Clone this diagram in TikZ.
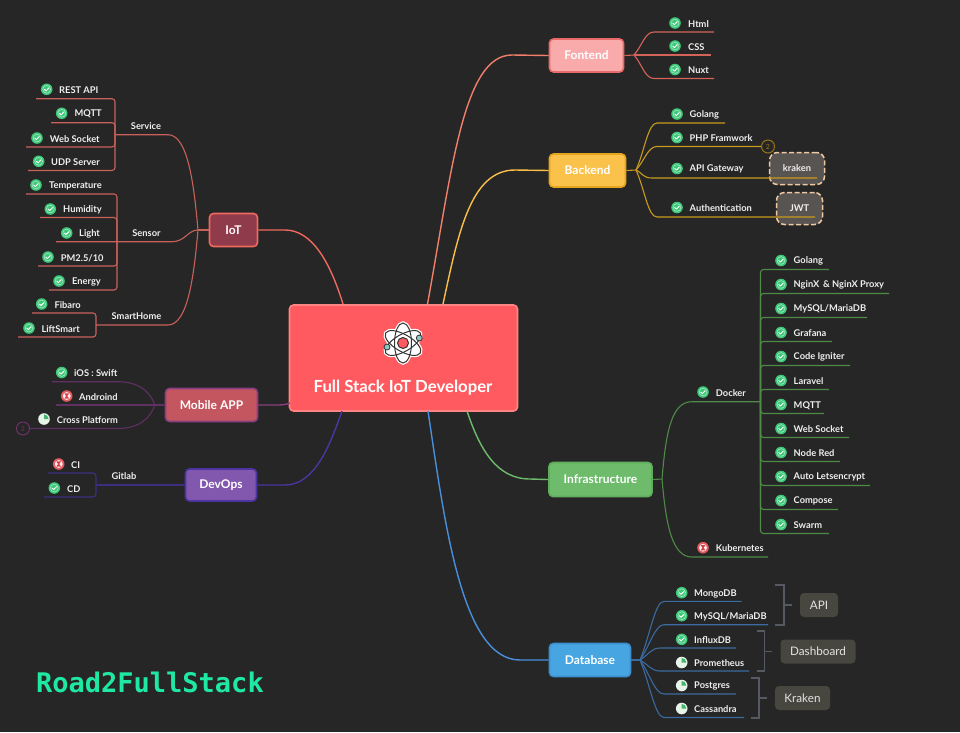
\documentclass[tikz,border=0pt]{standalone}
\usepackage{fontspec}
\setmainfont{Lato}
\newfontfamily\logofont{DejaVu Sans Mono}
\usetikzlibrary{calc,shapes.geometric}
\definecolor{bgc}{HTML}{262626}
\definecolor{txt}{HTML}{EFEFEF}
\definecolor{cIot}{HTML}{C9615B}\definecolor{rIot}{HTML}{F0695F}
\definecolor{cMob}{HTML}{5F3062}\definecolor{rMob}{HTML}{8A3F80}
\definecolor{cDev}{HTML}{3D2F80}\definecolor{rDev}{HTML}{4C35A0}
\definecolor{cFe}{HTML}{D4645A}\definecolor{rFe}{HTML}{F0806A}
\definecolor{cBe}{HTML}{C99A1E}\definecolor{rBe}{HTML}{FBBF47}
\definecolor{cIn}{HTML}{4F8A48}\definecolor{rIn}{HTML}{6DBB6B}
\definecolor{cDb}{HTML}{3A6A9E}\definecolor{rDb}{HTML}{4A8FDC}
\definecolor{brk}{HTML}{555962}
\definecolor{dashc}{HTML}{EFC9A2}
\definecolor{dashf}{HTML}{585452}
\definecolor{graybox}{HTML}{47473F}
\definecolor{notet}{HTML}{E4E4E4}
\definecolor{okc}{HTML}{3CC878}
\definecolor{waitc}{HTML}{E25B5F}
\definecolor{waitd}{HTML}{D83F48}
\definecolor{piew}{HTML}{E6F5E8}
\definecolor{pieg}{HTML}{45B46E}
\definecolor{rootf}{HTML}{FF5A5F}\definecolor{rootd}{HTML}{FF8585}
\definecolor{iotf}{HTML}{8F3B4B}
\definecolor{mobf}{HTML}{C4565F}
\definecolor{devf}{HTML}{8257AE}
\definecolor{fef}{HTML}{F9ABAB}\definecolor{fed}{HTML}{E96A6A}
\definecolor{bef}{HTML}{FBC24B}\definecolor{bed}{HTML}{E5A61E}
\definecolor{inf}{HTML}{6DBB6B}\definecolor{ind}{HTML}{5FAE5C}
\definecolor{dbf}{HTML}{47A6E2}\definecolor{dbd}{HTML}{3C8FD0}
\definecolor{logoc}{HTML}{1FE8A2}
\tikzset{
  x=1pt,y=-1pt,
  leaftext/.style={anchor=west,inner sep=0pt,yshift=-0.8pt,text=txt,font=\fontsize{9.3}{11}\selectfont\bfseries},
  sublabel/.style={inner sep=0pt,text=txt,font=\fontsize{9.3}{11}\selectfont\bfseries},
  mainbox/.style={rounded corners=4pt,line width=1.6pt,inner sep=0pt,text=white,font=\fontsize{12}{14}\selectfont\bfseries},
  dashbox/.style={rounded corners=8pt,line width=1.5pt,draw=dashc,dash pattern=on 5pt off 2.5pt,fill=dashf,inner sep=0pt,text=txt,font=\fontsize{9.3}{11}\selectfont\bfseries},
  notebox/.style={rounded corners=4pt,fill=graybox,inner sep=0pt,text=notet,font=\fontsize{11.7}{14}\selectfont},
  numc/.style={circle,draw,line width=1pt,minimum size=13pt,inner sep=0pt,font=\fontsize{7}{8}\selectfont},
  conn/.style={line width=1.1pt,line join=round},
  iconok/.pic={
    \fill[okc] (0,0) circle[radius=5.8pt];
    \draw[white,line width=.6pt,opacity=.55] (0,0) circle[radius=3.9pt];
    \draw[white,line width=1pt,line cap=round,line join=round] (-2.2,0.1) -- (-0.6,1.6) -- (2.3,-1.4);
  },
  iconwait/.pic={
    \fill[waitc] (0,0) circle[radius=5.8pt];
    \fill[white,opacity=.9] (0,0) circle[radius=3.9pt];
    \fill[waitd] (-2.4,-2.6) -- (2.4,-2.6) -- (0.6,0) -- (2.4,2.6) -- (-2.4,2.6) -- (-0.6,0) -- cycle;
  },
  iconpie/.pic={
    \fill[piew] (0,0) circle[radius=5.8pt];
    \fill[pieg] (0,0) -- (0,-4.6) arc[start angle=-90,end angle=0,radius=4.6] -- cycle;
  },
}
% leaf: id, icon, icon x, icon y, text x, line y, free end x, text
\newcommand\lf[8]{%
  \pic at (#3,#4) {#2};
  \node[leaftext] (#1) at (#5,#4) {#8};
  \coordinate (#1-e) at (#7,#6);
}
% fan branch: colour, hub, bend x, leaf id
\newcommand\fan[4]{%
  \draw[conn,#1] (#2) .. controls ($(#2)!.42!(#3,0 |- #4-e)$) and ($(#3,0 |- #4-e)+(-9,0)$) .. (#3,0 |- #4-e) -- (#4-e);
}
\begin{document}
\begin{tikzpicture}
\useasboundingbox (0,0) rectangle (960,732);
\fill[bgc] (0,0) rectangle (960,732);

%% main boxes
\node[mainbox,fill=rootf,draw=rootd,minimum width=228pt,minimum height=106pt] (root) at (403.5,358) {};
\node[inner sep=0pt,text=white,font=\fontsize{16.7}{19}\selectfont\bfseries] (title) at (403,387.8) {Full Stack IoT Developer};
\coordinate (atom) at (403,343);
\foreach \a in {0,60,120}{\draw[white,line width=3.4pt,fill=white] (atom) ellipse[x radius=8.5pt,y radius=20pt,rotate=\a];}
\foreach \a in {0,60,120}{\draw[black!80,line width=1pt] (atom) ellipse[x radius=8.5pt,y radius=20pt,rotate=\a];}
\draw[black!80,fill=rootf,line width=1pt] (atom) circle[radius=5.5pt];
\draw[black!80,fill=teal!45!white,line width=.8pt] (419.3,338) circle[radius=3pt];
\draw[black!80,fill=teal!45!white,line width=.8pt] (387,347) circle[radius=3pt];

\node[mainbox,fill=iotf,draw=rIot,minimum width=48pt,minimum height=33pt] (iot) at (233.5,230) {IoT};
\node[mainbox,fill=mobf,draw=rMob,minimum width=92pt,minimum height=33pt] (mobile) at (211.5,405) {Mobile APP};
\node[mainbox,fill=devf,draw=rDev,minimum width=71pt,minimum height=32pt] (devops) at (221,485) {DevOps};
\node[mainbox,fill=fef,draw=fed,minimum width=74pt,minimum height=33pt] (fe) at (586.5,55.5) {Fontend};
\node[mainbox,fill=bef,draw=bed,minimum width=76pt,minimum height=33pt] (be) at (587.5,170.5) {Backend};
\node[mainbox,fill=inf,draw=ind,minimum width=103pt,minimum height=34pt] (infra) at (600.5,479.5) {Infrastructure};
\node[mainbox,fill=dbf,draw=dbd,minimum width=81pt,minimum height=33pt] (db) at (590,660) {Database};

%% root connectors
\coordinate (r-fe) at (427.5,304);
\coordinate (r-be) at (443,304);
\coordinate (r-in) at (467,411);
\coordinate (r-db) at (428,411);
\coordinate (r-iot) at (343,304);
\coordinate (r-mob) at (290,403);
\coordinate (r-dev) at (342,411);
\draw[conn,rFe,line width=1.4pt] (r-fe) .. controls (452,170) and (463,55) .. (512,55) -- (fe.west);
\draw[conn,rBe,line width=1.4pt] (r-be) .. controls (458,235) and (470,170) .. (515,170) -- (be.west);
\draw[conn,rIn,line width=1.4pt] (r-in) .. controls (480,450) and (497,479) .. (530,479) -- (infra.west);
\draw[conn,rDb,line width=1.4pt] (r-db) .. controls (445,525) and (462,660) .. (520,660) -- (db.west);
\draw[conn,rIot,line width=1.4pt] (iot.east) -- (285,230) .. controls (312,230) and (330,262) .. (r-iot);
\draw[conn,rMob,line width=1.4pt] (mobile.east) -- (275,405) .. controls (281,405) and (285,405) .. (r-mob);
\draw[conn,rDev,line width=1.4pt] (devops.east) -- (285,485) .. controls (315,485) and (330,445) .. (r-dev);

%% IoT
\coordinate (iot-hub) at (198,230);
\coordinate (svc) at (115,134.7);
\coordinate (sns) at (117,241.7);
\coordinate (smh) at (96,325);
\node[sublabel] (l-service) at (146,126) {Service};
\node[sublabel] (l-sensor) at (146.5,233) {Sensor};
\node[sublabel] (l-smart) at (136.5,316) {SmartHome};
\lf{rest}{iconok}{46.7}{89.3}{59}{98.7}{36}{REST API}
\lf{mqtta}{iconok}{61.7}{113.3}{74.3}{122.7}{51}{MQTT}
\lf{wsa}{iconok}{37}{138}{49.7}{147}{26}{Web Socket}
\lf{udp}{iconok}{38.7}{161.3}{51}{170.5}{28}{UDP Server}
\lf{temp}{iconok}{36}{185}{49}{194}{26}{Temperature}
\lf{humi}{iconok}{50.3}{209}{63}{217.5}{40}{Humidity}
\lf{light}{iconok}{66.7}{233}{79}{241.7}{56}{Light}
\lf{pm}{iconok}{48}{257}{60.7}{266}{38}{PM2.5/10}
\lf{energy}{iconok}{59}{281}{72}{290}{49}{Energy}
\lf{fibaro}{iconok}{41.7}{304}{54.3}{313}{32}{Fibaro}
\lf{lift}{iconok}{29}{328}{41.3}{337}{18}{LiftSmart}
\begin{scope}[conn,cIot]
\draw (iot.west) -- (iot-hub);
\draw (svc) -- (168,134.7) .. controls (188,134.7) and (194,185) .. (iot-hub);
\draw (smh) -- (168,325) .. controls (188,325) and (194,275) .. (iot-hub);
\draw (light-e) -- (172,241.7) .. controls (185,241.7) and (188,230) .. (iot-hub);
\begin{scope}[rounded corners=3pt]
\foreach \n in {rest,mqtta,wsa,udp}{\draw (\n-e) -| (svc);}
\foreach \n in {temp,humi,pm,energy}{\draw (\n-e) -| (sns);}
\foreach \n in {fibaro,lift}{\draw (\n-e) -| (smh);}
\end{scope}
\end{scope}

%% Mobile
\lf{ios}{iconok}{61.7}{372.5}{74}{381.7}{52}{iOS : Swift}
\lf{andr}{iconwait}{66.7}{396}{79}{405}{56}{Androind}
\lf{cross}{iconpie}{44}{419}{56.7}{428.5}{30}{Cross Platform}
\node[numc,draw=rMob!80!black,text=rMob!80!black] (n2a) at (23,428.5) {2};
\coordinate (mob-hub) at (155,405);
\begin{scope}[conn,cMob]
\draw (mobile.west) -- (andr-e);
\draw (ios-e) -- (117,381.7) .. controls (140,381.7) and (150,392) .. (mob-hub);
\draw (n2a.east) -- (117,428.5) .. controls (140,428.5) and (150,418) .. (mob-hub);
\end{scope}

%% DevOps
\node[sublabel] (l-gitlab) at (124,476) {Gitlab};
\lf{ci}{iconwait}{58.7}{464}{71}{473}{48}{CI}
\lf{cd}{iconok}{54.3}{488}{67}{497}{44}{CD}
\coordinate (git) at (96,485);
\begin{scope}[conn,cDev]
\draw (devops.west) -- (git);
\draw[rounded corners=3pt] (ci-e) -| (git);
\draw[rounded corners=3pt] (cd-e) -| (git);
\end{scope}

%% Frontend
\coordinate (fe-hub) at (634,55);
\lf{html}{iconok}{675}{23}{688}{32}{714}{Html}
\lf{css}{iconok}{675}{46}{688}{55}{711}{CSS}
\lf{nuxt}{iconok}{675}{69.5}{688}{78.5}{714}{Nuxt}
\draw[conn,cFe] (fe.east) -- (fe-hub);
\fan{cFe}{fe-hub}{654}{html}
\draw[conn,cFe] (fe-hub) -- (css-e);
\fan{cFe}{fe-hub}{654}{nuxt}

%% Backend
\coordinate (be-hub) at (636,170);
\node[dashbox,minimum width=55pt,minimum height=32pt] (kraken) at (797,168.5) {kraken};
\node[dashbox,minimum width=46pt,minimum height=32pt] (jwt) at (799.5,208.5) {JWT};
\lf{gol}{iconok}{677}{114}{689.5}{123}{725}{Golang}
\lf{php}{iconok}{677}{137.5}{689.5}{146.5}{761}{PHP Framwork}
\lf{api}{iconok}{677}{168.5}{689.5}{178}{817}{API Gateway}
\lf{auth}{iconok}{677}{207.5}{689.5}{217}{815}{Authentication}
\node[numc,draw=cBe!75!black,text=cBe!75!black] (n2b) at (768,146.5) {2};
\draw[conn,cBe] (be.east) -- (be-hub);
\fan{cBe}{be-hub}{657}{gol}
\fan{cBe}{be-hub}{657}{php}
\fan{cBe}{be-hub}{652}{api}
\fan{cBe}{be-hub}{657}{auth}

%% Infrastructure
\coordinate (in-hub) at (662,479);
\coordinate (dk) at (760.5,401.7);
\lf{docker}{iconok}{703}{392}{715.7}{401.7}{690}{Docker}
\lf{kube}{iconwait}{703}{547.7}{715.7}{557}{768}{Kubernetes}
\lf{i1}{iconok}{781}{260.5}{793.5}{269.5}{829}{Golang}
\lf{i2}{iconok}{781}{284.5}{793.5}{293.5}{889}{NginX \,\& NginX Proxy}
\lf{i3}{iconok}{781}{308.5}{793.5}{317.5}{867}{MySQL/MariaDB}
\lf{i4}{iconok}{781}{332.5}{793.5}{341.5}{832}{Grafana}
\lf{i5}{iconok}{781}{356.5}{793.5}{365.5}{850}{Code Igniter}
\lf{i6}{iconok}{781}{380.5}{793.5}{389.5}{829}{Laravel}
\lf{i7}{iconok}{781}{404.5}{793.5}{413.5}{824}{MQTT}
\lf{i8}{iconok}{781}{428.5}{793.5}{437.5}{849}{Web Socket}
\lf{i9}{iconok}{781}{452.5}{793.5}{461.5}{840}{Node Red}
\lf{i10}{iconok}{781}{476.5}{793.5}{485.5}{870}{Auto Letsencrypt}
\lf{i11}{iconok}{781}{500.5}{793.5}{509.5}{838}{Compose}
\lf{i12}{iconok}{781}{524.5}{793.5}{533.5}{829}{Swarm}
\begin{scope}[conn,cIn]
\draw (infra.east) -- (in-hub);
\draw (in-hub) .. controls (666,430) and (672,401.7) .. (692,401.7) -- (dk);
\draw (in-hub) .. controls (666,525) and (672,557) .. (692,557) -- (kube-e);
\foreach \n in {1,...,12}{\draw[rounded corners=3pt] (i\n-e) -| (dk);}
\end{scope}

%% Database
\coordinate (db-hub) at (640,660);
\lf{mon}{iconok}{681.7}{592.7}{694}{601.3}{741.5}{MongoDB}
\lf{mys}{iconok}{681.7}{615.7}{694}{624.7}{768}{MySQL/MariaDB}
\lf{idb}{iconok}{681.7}{639.3}{694}{648}{736}{InfluxDB}
\lf{pro}{iconpie}{681.7}{662.5}{694}{671}{749}{Prometheus}
\lf{pos}{iconpie}{681.7}{685.5}{694}{694}{736}{Postgres}
\lf{cas}{iconpie}{681.7}{708.5}{694}{717.5}{744}{Cassandra}
\draw[conn,cDb] (db.east) -- (db-hub);
\fan{cDb}{db-hub}{664}{mon}
\fan{cDb}{db-hub}{664}{mys}
\fan{cDb}{db-hub}{660}{idb}
\fan{cDb}{db-hub}{660}{pro}
\fan{cDb}{db-hub}{664}{pos}
\fan{cDb}{db-hub}{664}{cas}

\node[notebox,minimum width=38pt,minimum height=24pt] (napi) at (819,605) {API};
\node[notebox,minimum width=75pt,minimum height=24pt] (ndash) at (818,651.5) {Dashboard};
\node[notebox,minimum width=55pt,minimum height=24pt] (nkr) at (802.5,698) {Kraken};
\coordinate (b-api) at (784,605);
\coordinate (b-dash) at (764.5,651.5);
\coordinate (b-kr) at (759,698);
\begin{scope}[line width=1.2pt,brk]
\draw (775,585) -- (784,585) -- (784,625) -- (775,625);
\draw (757,631) -- (764.5,631) -- (764.5,671) -- (757,671);
\draw (751,678) -- (759,678) -- (759,718) -- (751,718);
\draw[shorten >=8pt] (b-api) -- (napi.west);
\draw[shorten >=8pt] (b-dash) -- (ndash.west);
\draw[shorten >=8pt] (b-kr) -- (nkr.west);
\end{scope}

%% logo
\node[anchor=west,inner sep=0pt,text=logoc,font=\fontsize{27}{30}\logofont\bfseries] (logo) at (36,682) {Road2FullStack};
\end{tikzpicture}
\end{document}
